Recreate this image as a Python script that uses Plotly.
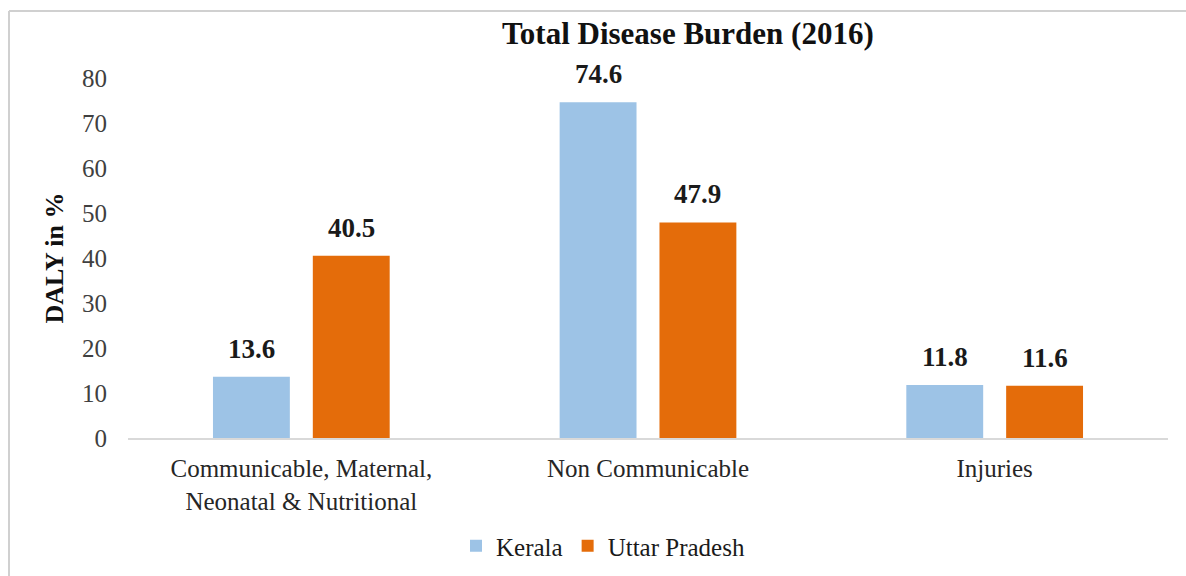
import plotly.graph_objects as go

categories = ["Communicable, Maternal,<br>Neonatal & Nutritional", "Non Communicable", "Injuries"]
kerala = [13.6, 74.6, 11.8]
uttar_pradesh = [40.5, 47.9, 11.6]
series_names = ["Kerala", "Uttar Pradesh"]
y_ticks = [0, 10, 20, 30, 40, 50, 60, 70, 80]

FONT = "'Liberation Serif', 'DejaVu Serif', 'Times New Roman', Times, serif"
colors = ["#9DC3E6", "#E46C0A"]

fig = go.Figure()
for name, vals, col in zip(series_names, [kerala, uttar_pradesh], colors):
    fig.add_trace(go.Bar(name=name, x=categories, y=vals, marker=dict(color=col, line=dict(width=0)),
                         offsetgroup=name))

# value labels above each bar
ann = []
for idx, vals in enumerate([kerala, uttar_pradesh]):
    for ci, v in enumerate(vals):
        ann.append(dict(x=ci + (-0.1441 if idx == 0 else 0.1441), y=v, xref="x", yref="y",
                        text=f"<b>{v}</b>", showarrow=False, yanchor="bottom", yshift=11,
                        font=dict(family=FONT, size=27, color="#1a1a1a")))

ann.append(dict(x=(688 - 128) / 1040, y=(438 - 33) / 360, xref="paper", yref="paper",
                text="<b>Total Disease Burden (2016)</b>", showarrow=False,
                font=dict(family=FONT, size=31, color="#111111"), xanchor="center", yanchor="middle"))

fig.update_layout(
    width=1186, height=576,
    margin=dict(l=128, r=18, t=78, b=138, autoexpand=False),
    paper_bgcolor="white", plot_bgcolor="white",
    barmode="group", bargap=0.424, bargroupgap=0.23,
    font=dict(family=FONT, size=24, color="#262626"),
    annotations=ann,
    showlegend=True,
    legend=dict(orientation="h", x=(603 - 128) / 1040, xanchor="center", y=(438 - 546) / 360,
                yanchor="middle", font=dict(family=FONT, size=25, color="#1a1a1a"), itemwidth=30,
                traceorder="normal"),
    shapes=[
        dict(type="line", xref="paper", yref="paper", x0=(9 - 128) / 1040, x1=(1186 - 128) / 1040,
             y0=(438 - 11) / 360, y1=(438 - 11) / 360, line=dict(color="#D0D0D0", width=2)),
        dict(type="line", xref="paper", yref="paper", x0=(9 - 128) / 1040, x1=(9 - 128) / 1040,
             y0=(438 - 11) / 360, y1=(438 - 576) / 360, line=dict(color="#D0D0D0", width=2)),
    ],
)
fig.update_xaxes(showgrid=False, showline=True, linecolor="#D9D9D9", linewidth=2,
                 tickfont=dict(family=FONT, size=25, color="#262626"), ticks="",
                 ticklabelstandoff=7)
fig.update_yaxes(range=[0, 80], tickvals=y_ticks, showgrid=False, zeroline=False, showline=False,
                 tickfont=dict(family=FONT, size=25, color="#404040"), ticks="", ticklabelstandoff=20,
                 title=dict(text="<b>DALY in %</b>", font=dict(family=FONT, size=26, color="#111111"),
                            standoff=10))

fig.write_html("out.html")
